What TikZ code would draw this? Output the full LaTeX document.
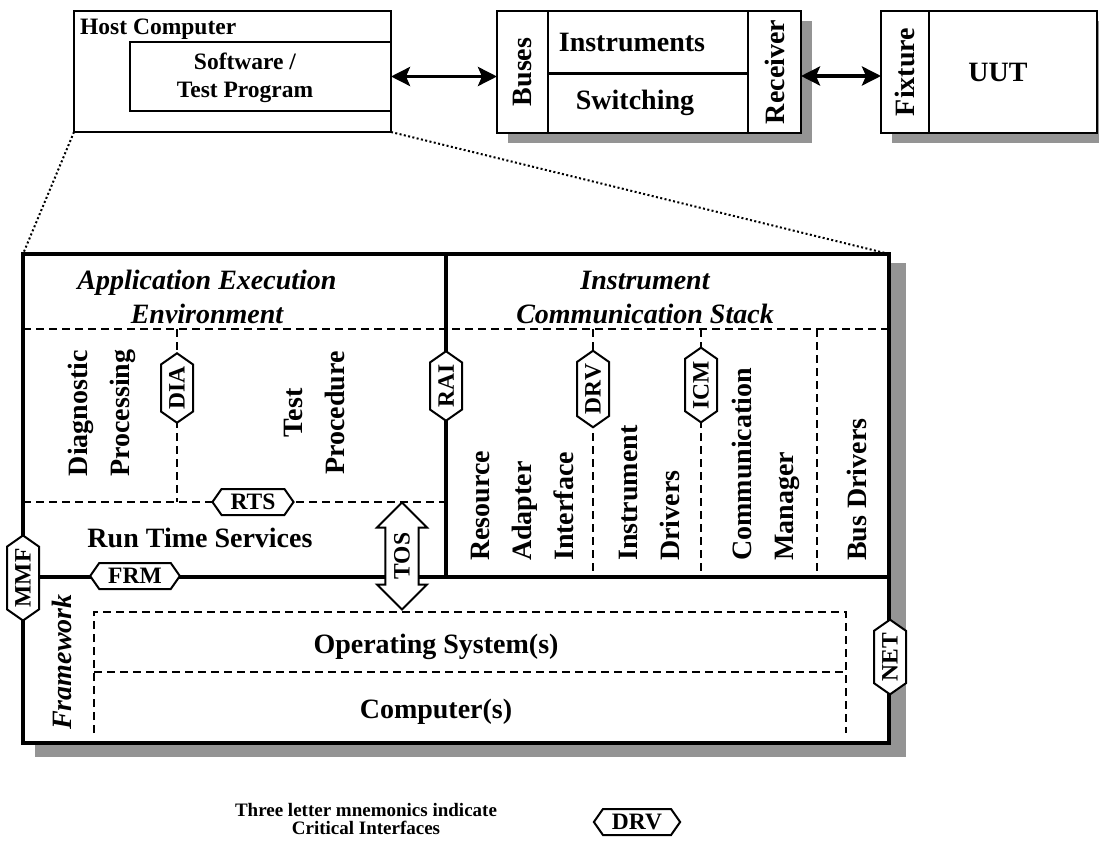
\documentclass[tikz,border=0pt]{standalone}
\usepackage{fontspec}
\setmainfont{Liberation Serif}
\usetikzlibrary{arrows.meta,shapes.symbols,shapes.arrows}

\begin{document}
\begin{tikzpicture}[x=1pt,y=-1pt,>={Stealth[length=19pt,width=19pt,inset=4pt]},
  box/.style={draw,fill=white,line width=2.4pt,inner sep=0pt,outer sep=0pt,anchor=north west},
  frame/.style={draw,fill=white,line width=4pt,inner sep=0pt,outer sep=0pt,anchor=north west},
  heavy/.style={line width=4pt},
  split/.style={line width=2pt,dash pattern=on 8pt off 5pt},
  shade/.style={fill=black!42},
  zoomline/.style={line width=2pt,dash pattern=on 2pt off 2.4pt},
  link/.style={<->,line width=3.6pt},
  lbl/.style={font=\fontsize{28}{42}\selectfont\bfseries,align=center,inner sep=0pt},
  small/.style={font=\fontsize{23.5}{28.5}\selectfont\bfseries,align=center,inner sep=0pt},
  ttl/.style={font=\fontsize{28}{34}\selectfont\bfseries\itshape,align=center,inner sep=0pt},
  vlbl/.style={lbl,rotate=90},
  mnem/.style={signal,signal to=east and west,signal pointer angle=110,draw,fill=white,line width=2pt,font=\fontsize{23.5}{23.5}\selectfont\bfseries,inner xsep=9pt,inner ysep=0pt,minimum height=26pt},
  vmnem/.style={mnem,rotate=90,inner xsep=2pt,minimum height=32pt}]
\useasboundingbox (0,0) rectangle (1099,842);

\node[box,minimum width=317pt,minimum height=121pt] (host) at (74,11) {};
\node[box,minimum width=261pt,minimum height=69pt] (sw) at (130,42) {};
\node[small,anchor=west] (hostlbl) at (80,29) {Host Computer};
\node[small] (swlbl) at (245,78) {Software /\\Test Program};

\fill[shade] (508,21) rectangle (812,143);
\node[box,minimum width=51pt,minimum height=122pt] (buses) at (497,11) {};
\node[box,minimum width=200pt,minimum height=62.7pt] (instr) at (548,11) {};
\node[box,minimum width=200pt,minimum height=59.3pt] (swit) at (548,73.7) {};
\node[box,minimum width=53pt,minimum height=122pt] (rcv) at (748,11) {};
\node[vlbl] (buseslbl) at (buses.center) {Buses};
\node[lbl] (instrlbl) at ([xshift=-16pt]instr.center) {Instruments};
\node[lbl] (switlbl) at ([xshift=-13pt]swit.center) {Switching};
\node[vlbl] (rcvlbl) at (rcv.center) {Receiver};

\fill[shade] (892,21) rectangle (1099,143);
\node[box,minimum width=48pt,minimum height=122pt] (fix) at (881,11) {};
\node[box,minimum width=168pt,minimum height=122pt] (uut) at (929,11) {};
\node[vlbl] (fixlbl) at (fix.center) {Fixture};
\node[lbl] (uutlbl) at ([xshift=-15pt]uut.center) {UUT};

\draw[link] (sw.east) -- (sw.east -| buses.west);
\draw[link] ([yshift=-4pt]rcv.east) -- ([yshift=-4pt]rcv.east -| fix.west);

\fill[shade] (35,263) rectangle (906,757);
\node[frame,minimum width=866pt,minimum height=489pt] (main) at (23,254) {};
\draw[zoomline] (host.south west) -- (main.north west);
\draw[zoomline] (host.south east) -- (main.north east);

\draw[split] (23,329) -- (889,329);
\draw[split] (177,329) -- (177,502);
\draw[split] (23,502) -- (446,502);
\draw[split] (593,329) -- (593,577);
\draw[split] (701,329) -- (701,577);
\draw[split] (817,329) -- (817,577);
\draw[split] (94,733) -- (94,612) -- (846,612) -- (846,733);
\draw[split] (94,672) -- (846,672);
\draw[heavy] (446,254) -- (446,577);
\draw[heavy] (23,577) -- (889,577);

\node[ttl] (aee) at (207,297) {Application Execution\\Environment};
\node[ttl] (ics) at (645,297) {Instrument\\Communication Stack};
\node[vlbl] (diag) at (102,413) {Diagnostic\\Processing};
\node[vlbl] (tproc) at (314,413) {Test\\Procedure};
\node[lbl] (rts) at (200,538) {Run Time Services};
\node[vlbl,align=left,anchor=west] (rai) at (522,561) {Resource\\Adapter\\Interface};
\node[vlbl,align=left,anchor=west] (idrv) at (649,561) {Instrument\\Drivers};
\node[vlbl,align=left,anchor=west] (cmgr) at (766,561) {Communication\\Manager};
\node[vlbl,align=left,anchor=west] (bdrv) at (857,561) {Bus Drivers};
\node[ttl,rotate=90] (fw) at (62,662) {Framework};
\node[lbl] (os) at (436,647) {Operating System(s)};
\node[lbl] (comp) at (436,712) {Computer(s)};

\node[vmnem] (diaif) at (177,388) {DIA};
\node[vmnem] (raiif) at (446,386) {RAI};
\node[vmnem] (drvif) at (593,389) {DRV};
\node[vmnem] (icmif) at (701,385) {ICM};
\node[vmnem] (mmfif) at (23,578) {MMF};
\node[vmnem] (netif) at (890,657) {NET};
\node[mnem] (rtsif) at (253,502) {RTS};
\node[mnem] (frmif) at (135,576) {FRM};
\node[double arrow,draw,fill=white,line width=2pt,rotate=90,minimum height=107pt,minimum width=50pt,double arrow head extend=5.5pt,inner sep=2pt,font=\fontsize{23.5}{23.5}\selectfont\bfseries] (tosif) at (402,556) {TOS};

\node[font=\fontsize{19}{17.5}\selectfont\bfseries,align=center,inner sep=0pt] (note) at (366,819) {Three letter mnemonics indicate\\Critical Interfaces};
\node[mnem] (keyif) at (637,822) {DRV};
\end{tikzpicture}
\end{document}
